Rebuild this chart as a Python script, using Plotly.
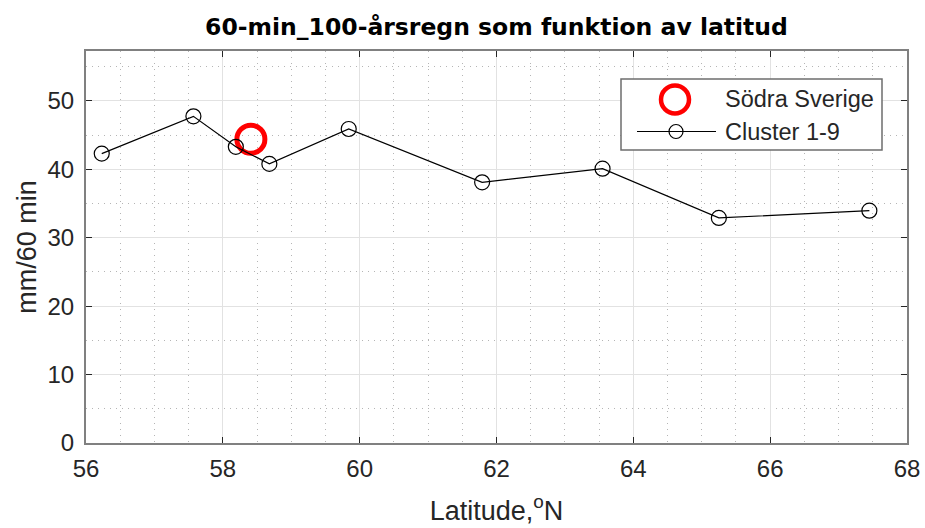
import plotly.graph_objects as go

# Cluster 1-9: latitude (°N) and 60-min 100-year rainfall (mm/60 min)
cluster_lat = [56.23, 57.57, 58.19, 58.68, 59.84, 61.79, 63.55, 65.25, 67.45]
cluster_rain = [42.3, 47.75, 43.3, 40.8, 45.9, 38.1, 40.1, 32.9, 33.96]

# Södra Sverige reference point
south_lat = [58.41]
south_rain = [44.4]

x_ticks = [56, 58, 60, 62, 64, 66, 68]
y_ticks = [0, 10, 20, 30, 40, 50]
legend_names = ["Södra Sverige", "Cluster 1-9"]

W, H = 925, 528
M = dict(l=86, r=18, t=51, b=85)
y_top = 1.2 * max(cluster_rain)

AX_FONT = "Liberation Sans, Arial, sans-serif"
TXT = "#262626"


def px_to_paper(px, py):
    """Convert a pixel position in the page to paper coordinates."""
    pw = W - M["l"] - M["r"]
    ph = H - M["t"] - M["b"]
    return (px - M["l"]) / pw, (H - M["b"] - py) / ph


fig = go.Figure()

fig.add_trace(go.Scatter(
    x=south_lat, y=south_rain, mode="markers", name=legend_names[0],
    marker=dict(symbol="circle-open", size=28, color="red",
                line=dict(color="red", width=5)),
    showlegend=False,
))
fig.add_trace(go.Scatter(
    x=cluster_lat, y=cluster_rain, mode="lines+markers", name=legend_names[1],
    line=dict(color="black", width=1.2),
    marker=dict(symbol="circle-open", size=15, color="black",
                line=dict(color="black", width=1.2)),
    showlegend=False,
))

axis_common = dict(
    automargin=False,
    showline=True, linecolor="#808080", linewidth=2, mirror="ticks",
    ticks="inside", ticklen=6, tickcolor=TXT, tickwidth=1,
    showgrid=True, gridcolor="#e2e2e2", gridwidth=1,
    zeroline=False,
    tickfont=dict(family=AX_FONT, size=24, color=TXT),
    title_font=dict(family=AX_FONT, size=27, color=TXT),
)

fig.update_xaxes(
    range=[x_ticks[0], x_ticks[-1]], tickvals=x_ticks,
    minor=dict(dtick=0.5, showgrid=True, gridcolor="#b5b5b5",
               griddash="1px,5px", gridwidth=1),
    ticklabelstandoff=3,
    title=dict(text="Latitude,<sup>o</sup>N", standoff=20),
    **axis_common,
)
fig.update_yaxes(
    range=[0, y_top], tickvals=y_ticks,
    minor=dict(dtick=5, showgrid=True, gridcolor="#b5b5b5",
               griddash="1px,5px", gridwidth=1),
    ticklabelstandoff=5,
    title=dict(text="mm/60 min", standoff=3),
    **axis_common,
)

# Legend drawn as a framed box with sample symbols and labels
shapes = []
annotations = []
bx0, by0 = px_to_paper(621, 150)
bx1, by1 = px_to_paper(882, 79)
shapes.append(dict(type="rect", xref="paper", yref="paper",
                   x0=bx0, y0=by0, x1=bx1, y1=by1,
                   line=dict(color="#6e6e6e", width=1.5),
                   fillcolor="white", layer="above"))

sx, sy = px_to_paper(675, 99.5)
shapes.append(dict(type="circle", xref="paper", yref="paper",
                   xsizemode="pixel", ysizemode="pixel",
                   xanchor=sx, yanchor=sy, x0=-14, x1=14, y0=-14, y1=14,
                   line=dict(color="red", width=4.5), layer="above"))

lx0, ly = px_to_paper(637, 131.5)
lx1, _ = px_to_paper(716, 131.5)
shapes.append(dict(type="line", xref="paper", yref="paper",
                   x0=lx0, x1=lx1, y0=ly, y1=ly,
                   line=dict(color="black", width=1.2), layer="above"))
cx, _ = px_to_paper(676, 131.5)
shapes.append(dict(type="circle", xref="paper", yref="paper",
                   xsizemode="pixel", ysizemode="pixel",
                   xanchor=cx, yanchor=ly, x0=-7, x1=7, y0=-7, y1=7,
                   line=dict(color="black", width=1.2), layer="above"))

tx, _ = px_to_paper(723, 0)
for name, yy in zip(legend_names, [sy, ly]):
    annotations.append(dict(text=name, xref="paper", yref="paper",
                            x=tx, y=yy, xanchor="left", yanchor="middle",
                            showarrow=False,
                            font=dict(family=AX_FONT, size=23.5, color=TXT)))

fig.update_layout(
    width=W, height=H, margin=M,
    paper_bgcolor="white", plot_bgcolor="white",
    title=dict(text="<b>60-min_100-årsregn som funktion av latitud</b>",
               x=0.5, xref="paper", xanchor="center",
               y=1 - 27 / H, yref="container", yanchor="middle",
               font=dict(family="DejaVu Sans, sans-serif", size=23.5, color="black")),
    shapes=shapes, annotations=annotations,
    showlegend=False,
)

fig.write_html("out.html")
